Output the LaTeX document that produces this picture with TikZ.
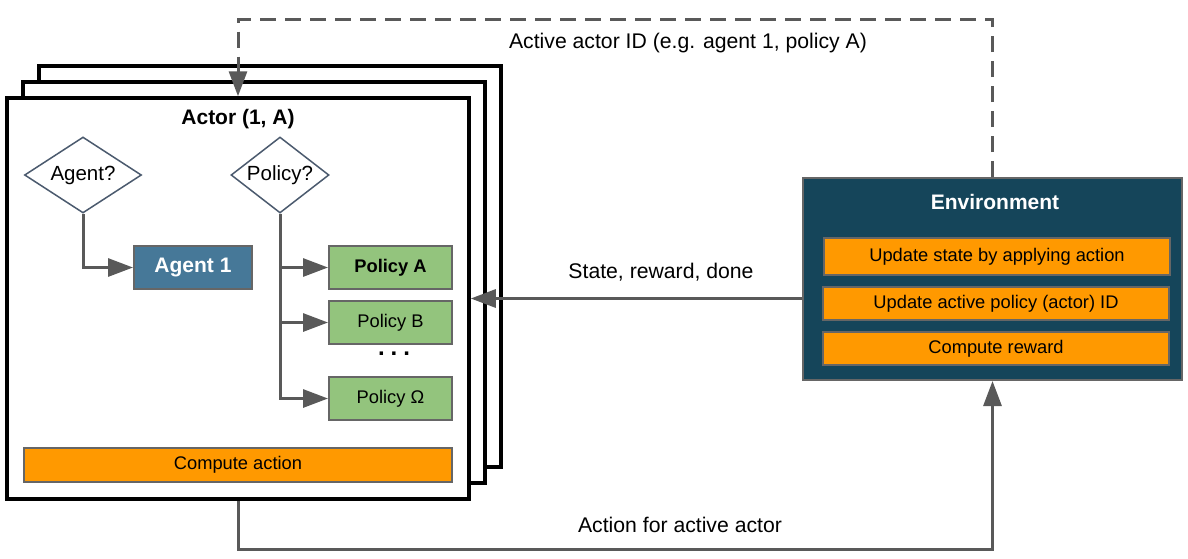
\documentclass[tikz,border=0pt]{standalone}
\usepackage{fontspec}
\setmainfont{Liberation Sans}
\usepackage{tikz}
\usetikzlibrary{shapes.geometric}
\usetikzlibrary{arrows.meta}

\definecolor{linegray}{HTML}{595959}
\definecolor{boxgray}{HTML}{666666}
\definecolor{slate}{HTML}{4B5A6E}
\definecolor{agentblue}{HTML}{467898}
\definecolor{policygreen}{HTML}{93C47D}
\definecolor{taskorange}{HTML}{FF9900}
\definecolor{envteal}{HTML}{15455A}

\begin{document}
\begin{tikzpicture}[x=1pt,y=-1pt,
  conn/.style={line width=3pt,color=linegray,-{Triangle[length=25pt,width=18pt]}},
  actorbox/.style={draw=black,fill=white,line width=3.5pt,minimum width=462pt,minimum height=401pt},
  diam/.style={diamond,draw=slate,fill=white,line width=1.5pt,inner sep=0pt,font=\fontsize{20.5}{24}\selectfont},
  smallbox/.style={draw=boxgray,line width=2pt,inner sep=0pt,font=\fontsize{18.3}{22}\selectfont},
  taskbox/.style={smallbox,fill=taskorange},
  policybox/.style={smallbox,fill=policygreen,minimum width=123pt,minimum height=43pt},
  bigtext/.style={font=\bfseries\fontsize{21}{25}\selectfont},
  labeltext/.style={font=\fontsize{21.2}{25}\selectfont}]

\useasboundingbox (0,0) rectangle (1188,558);

%stack of actors, front one last
\node[actorbox] (actorC) at (270,266.5) {};
\node[actorbox] (actorB) at (254,282.5) {};
\node[actorbox] (actor) at (238,298.5) {};
\node[bigtext] (actortitle) at (238,119) {Actor (1, A)};

%choose agent and policy
\node[diam,minimum width=117pt,minimum height=76pt,shape aspect=1.54] (agentq) at (83,175) {Agent?};
\node[diam,minimum width=98pt,minimum height=76pt,shape aspect=1.29] (policyq) at (280,175) {Policy?};
\node[smallbox,fill=agentblue,text=white,font=\bfseries\fontsize{21}{25}\selectfont,
  minimum width=118pt,minimum height=43pt] (agent1) at (193,267.5) {Agent 1};
\node[policybox,font=\bfseries\fontsize{18.3}{22}\selectfont] (polA) at (390.5,267.5) {Policy A};
\node[policybox] (polB) at (390.5,322.5) {Policy B};
\node[font=\bfseries\fontsize{24}{28}\selectfont] (dots) at (394,354) {.\hspace{6pt}.\hspace{6pt}.};
\node[policybox] (polO) at (390.5,398.5) {Policy Ω};
\node[taskbox,minimum width=428pt,minimum height=34pt] (compact) at (238,465) {Compute action};

\draw[conn] (agentq.south) |- (agent1.west);
\foreach \p in {polA,polB,polO}
  \draw[conn] (policyq.south) |- (\p.west);

%environment
\node[draw=boxgray,line width=2pt,fill=envteal,minimum width=379pt,minimum height=202pt] (env) at (992.5,279) {};
\node[bigtext,text=white] (envtitle) at (995,202) {Environment};
\node[taskbox,minimum width=346pt,minimum height=37pt] (updstate) at (997,256.5) {Update state by applying action};
\node[taskbox,minimum width=346pt,minimum height=33pt] (updid) at (996,303.5) {Update active policy (actor) ID};
\node[taskbox,minimum width=346pt,minimum height=33pt] (comprew) at (996,348.5) {Compute reward};

%connectors between actor and environment
\path (env.north) ++(0,-158) coordinate (idturn);
\path (actor.south) ++(0,49) coordinate (actturn);
\draw[conn,dash pattern=on 16pt off 9pt] (env.north) -- (idturn) -| (actor.north);
\node[labeltext] (idlbl) at (688,43) {Active actor ID (e.g. agent 1, policy A)};
\draw[conn] (env.west |- actor.east) -- (actor.east);
\node[labeltext] (statelbl) at (661,272) {State, reward, done};
\draw[conn] (actor.south) -- (actturn) -| (env.south);
\node[labeltext] (actlbl) at (680,525) {Action for active actor};

\end{tikzpicture}
\end{document}
